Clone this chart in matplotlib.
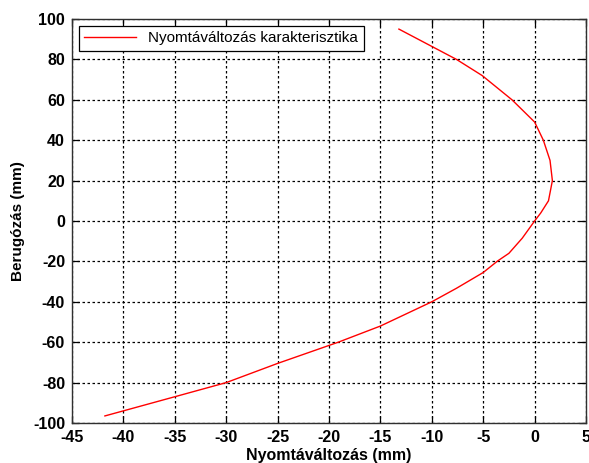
import matplotlib.pyplot as plt

# Data
x_vals = [-41.8, -35, -30, -25, -19.1, -15, -10, -7.6, -5, -3.6, -2.5, -1.2, 0,
          0.6, 1.35, 1.73, 1.5, 0.85, 0, -2.2, -5.1, -7.6, -13.2]
y_vals = [-96.5, -87, -80, -70.5, -60, -52, -40, -33.3, -25.5, -19.8, -16, -8.5, 0,
          4, 10, 20, 30, 40, 49, 60, 72, 80, 95]

x_ticks = list(range(-45, 6, 5))
y_ticks = list(range(-100, 101, 20))

plt.rcParams['font.family'] = ['Liberation Sans', 'DejaVu Sans']
plt.rcParams['axes.unicode_minus'] = False

fig = plt.figure(figsize=(5.89, 4.63), dpi=100)
ax = fig.add_axes([72 / 589, 40 / 463, 514 / 589, 404 / 463])

ax.plot(x_vals, y_vals, color='#ff0000', linewidth=1.0,
        label='Nyomtáváltozás karakterisztika')

ax.set_xlim(-45, 5)
ax.set_ylim(-100, 100)
ax.set_xticks(x_ticks)
ax.set_yticks(y_ticks)
ax.tick_params(direction='in', length=5, width=0.9, top=True, right=True,
               labelsize=11.5, pad=5)
for lbl in ax.get_xticklabels() + ax.get_yticklabels():
    lbl.set_fontweight('bold')

ax.grid(True, color='black', linestyle=(0, (2, 2)), linewidth=0.9)
for sp in ax.spines.values():
    sp.set_color('#303030')
    sp.set_linewidth(1.0)

ax.set_xlabel('Nyomtáváltozás (mm)', fontsize=11.5, fontweight='bold', labelpad=2)
ax.set_ylabel('Berugózás (mm)', fontsize=11, fontweight='bold', labelpad=6)

leg = ax.legend(loc='upper left', fontsize=11, fancybox=False, framealpha=1,
                edgecolor='black', borderaxespad=0.45, handlelength=3.4,
                borderpad=0.35)
leg.get_frame().set_linewidth(0.9)

fig.savefig('out.png', dpi=100)
